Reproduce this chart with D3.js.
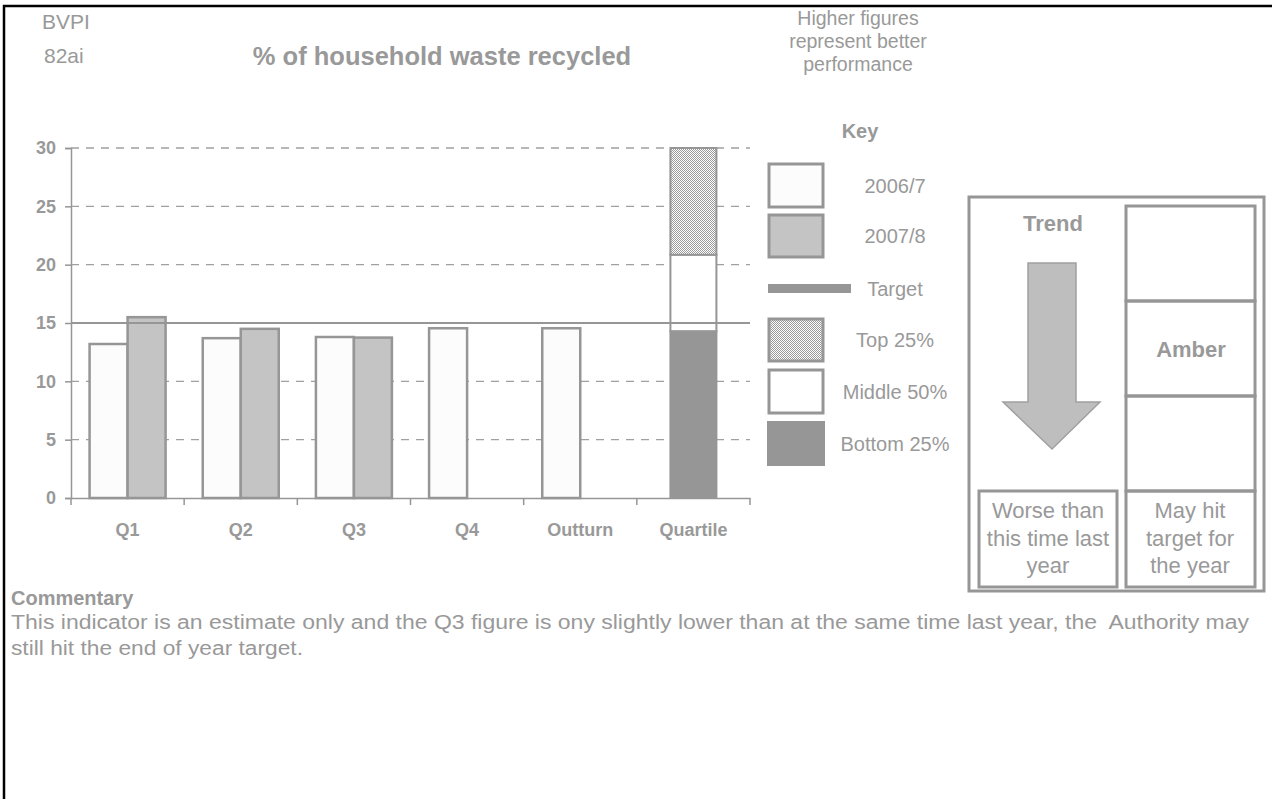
<!DOCTYPE html>
<html><head><meta charset="utf-8">
<script src="https://cdn.jsdelivr.net/npm/d3@7"></script>
<style>
html,body{margin:0;padding:0;background:#fff;}
svg{display:block;font-family:"Liberation Sans",Arial,sans-serif;}
</style></head>
<body><svg id="c" width="1272" height="799"></svg>
<script>
const categories = ["Q1","Q2","Q3","Q4","Outturn","Quartile"];
const values2006 = [13.2, 13.7, 13.8, 14.55, 14.55, null];
const values2007 = [15.5, 14.5, 13.75, null, null, null];
const target = 15;
const quartileBands = [
  {name:"Bottom 25%", from:0, to:14.3},
  {name:"Middle 50%", from:14.3, to:20.85},
  {name:"Top 25%", from:20.85, to:30}
];
const yTicks = [0,5,10,15,20,25,30];
const legendLabels = ["2006/7","2007/8","Target","Top 25%","Middle 50%","Bottom 25%"];
const noteLines = ["Higher figures","represent better","performance"];
const commentaryLines = [
  "This indicator is an estimate only and the Q3 figure is ony slightly lower than at the same time last year, the  Authority may",
  "still hit the end of year target."
];

const grey = "#969696", txt = "#999999";
const svg = d3.select("#c");
const defs = svg.append("defs");
const pat = defs.append("pattern").attr("id","chk").attr("width",2).attr("height",2).attr("patternUnits","userSpaceOnUse");
pat.append("rect").attr("width",2).attr("height",2).attr("fill","#fff");
pat.append("rect").attr("width",1).attr("height",1).attr("fill","#999");
pat.append("rect").attr("x",1).attr("y",1).attr("width",1).attr("height",1).attr("fill","#999");

// page border
svg.append("path").attr("d","M4,1000 V6 H1300").attr("fill","none").attr("stroke","#000").attr("stroke-width",2.5);

// header texts
svg.append("text").attr("x",42).attr("y",29).attr("font-size",21).attr("fill",txt).text("BVPI");
svg.append("text").attr("x",44).attr("y",63).attr("font-size",21).attr("fill",txt).text("82ai");
svg.append("text").attr("x",442).attr("y",65).attr("text-anchor","middle").attr("font-size",25.5).attr("font-weight","bold").attr("fill",txt).text("% of household waste recycled");
noteLines.forEach((t,i)=>{
  svg.append("text").attr("x",858).attr("y",25+i*23).attr("text-anchor","middle").attr("font-size",19.5).attr("fill",txt).text(t);
});
svg.append("text").attr("x",860).attr("y",138).attr("text-anchor","middle").attr("font-size",20).attr("font-weight","bold").attr("fill",txt).text("Key");

// chart
const x = d3.scaleBand().domain(categories).range([71,750]);
const y = d3.scaleLinear().domain([0,30]).range([498,148]);
const g = svg.append("g");

// gridlines
g.selectAll("line.grid").data(yTicks.filter(d=>d!==0 && d!==target)).enter().append("line")
  .attr("x1",71).attr("x2",750).attr("y1",d=>y(d)).attr("y2",d=>y(d))
  .attr("stroke","#a0a0a0").attr("stroke-width",1.3).attr("stroke-dasharray","8,7");

// y axis
const yAxis = g.append("g").attr("transform","translate(71,0)")
  .call(d3.axisLeft(y).tickValues(yTicks).tickSize(6).tickPadding(9));
yAxis.select(".domain").attr("stroke",grey).attr("stroke-width",1.5);
yAxis.selectAll(".tick line").attr("stroke",grey).attr("stroke-width",1.5);
yAxis.selectAll(".tick text").attr("fill",txt).attr("font-size",18).attr("font-weight","bold").attr("font-family","Liberation Sans, Arial, sans-serif");

// x axis
const xAxis = g.append("g").attr("transform","translate(0,498)")
  .call(d3.axisBottom(x).tickSize(0).tickPadding(25));
xAxis.select(".domain").attr("stroke",grey).attr("stroke-width",1.5);
xAxis.selectAll(".tick text").attr("fill",txt).attr("font-size",18).attr("font-weight","bold").attr("font-family","Liberation Sans, Arial, sans-serif");
g.selectAll("line.xt").data(categories.concat(["end"])).enter().append("line")
  .attr("x1",(d,i)=> i<categories.length ? x(d) : x.range()[1])
  .attr("x2",(d,i)=> i<categories.length ? x(d) : x.range()[1])
  .attr("y1",498).attr("y2",505).attr("stroke",grey).attr("stroke-width",1.5);

const bw = 38;
g.selectAll("rect.b6").data(categories.map((c,i)=>({c,v:values2006[i]})).filter(d=>d.v!=null)).enter().append("rect")
  .attr("x",d=>x(d.c)+x.bandwidth()/2-bw).attr("width",bw)
  .attr("y",d=>y(d.v)).attr("height",d=>y(0)-y(d.v))
  .attr("fill","#fcfcfc").attr("stroke",grey).attr("stroke-width",2.5);
g.selectAll("rect.b7").data(categories.map((c,i)=>({c,v:values2007[i]})).filter(d=>d.v!=null)).enter().append("rect")
  .attr("x",d=>x(d.c)+x.bandwidth()/2).attr("width",bw)
  .attr("y",d=>y(d.v)).attr("height",d=>y(0)-y(d.v))
  .attr("fill","#c4c4c4").attr("stroke",grey).attr("stroke-width",2.5);

// quartile stack
const qw = 46, qc = x("Quartile")+x.bandwidth()/2;
const qFill = {"Bottom 25%":grey,"Middle 50%":"#fff","Top 25%":"url(#chk)"};
g.selectAll("rect.q").data(quartileBands).enter().append("rect")
  .attr("x",qc-qw/2).attr("width",qw)
  .attr("y",d=>y(d.to)).attr("height",d=>y(d.from)-y(d.to))
  .attr("fill",d=>qFill[d.name]).attr("stroke",grey).attr("stroke-width",2);

// target line
g.append("line").attr("x1",71).attr("x2",750).attr("y1",y(target)).attr("y2",y(target))
  .attr("stroke",grey).attr("stroke-width",2.2);

// legend
const lg = svg.append("g");
const boxes = [
  {y0:163, y1:208, fill:"#fcfcfc"},
  {y0:214, y1:258, fill:"#c4c4c4"},
  {y0:284, y1:293, fill:grey, line:true},
  {y0:318, y1:362, fill:"url(#chk)"},
  {y0:369, y1:414, fill:"#fff"},
  {y0:421, y1:466, fill:grey, solid:true}
];
boxes.forEach((b,i)=>{
  if (b.line) {
    lg.append("rect").attr("x",768).attr("y",b.y0).attr("width",83).attr("height",b.y1-b.y0).attr("fill",grey);
  } else if (b.solid) {
    lg.append("rect").attr("x",767).attr("y",b.y0).attr("width",58).attr("height",b.y1-b.y0).attr("fill",grey);
  } else {
    lg.append("rect").attr("x",769).attr("y",b.y0+1).attr("width",54).attr("height",b.y1-b.y0-2)
      .attr("fill",b.fill).attr("stroke",grey).attr("stroke-width",3);
  }
  lg.append("text").attr("x",895).attr("y",(b.y0+b.y1)/2).attr("dy","0.35em").attr("text-anchor","middle")
    .attr("font-size",20).attr("fill",txt).text(legendLabels[i]);
});

// trend / status panel
const p = svg.append("g");
p.append("rect").attr("x",969).attr("y",197).attr("width",295).attr("height",394).attr("fill","#fff").attr("stroke",grey).attr("stroke-width",3);
[[1126,206,129,95],[1126,301,129,95],[1126,396,129,95],[1126,491,129,96],[979,491,138,96]].forEach(r=>{
  p.append("rect").attr("x",r[0]).attr("y",r[1]).attr("width",r[2]).attr("height",r[3]).attr("fill","none").attr("stroke",grey).attr("stroke-width",3);
});
p.append("text").attr("x",1053).attr("y",231).attr("text-anchor","middle").attr("font-size",22).attr("font-weight","bold").attr("fill",txt).text("Trend");
p.append("path").attr("d","M1028,263 H1076 V402 H1100 L1052,449 L1003,402 H1028 Z").attr("fill","#bebebe").attr("stroke","#a0a0a0").attr("stroke-width",1.5);
p.append("text").attr("x",1191).attr("y",357).attr("text-anchor","middle").attr("font-size",22).attr("font-weight","bold").attr("fill",txt).text("Amber");
["Worse than","this time last","year"].forEach((t,i)=>{
  p.append("text").attr("x",1048).attr("y",518+i*27.5).attr("text-anchor","middle").attr("font-size",22).attr("fill",txt).text(t);
});
["May hit","target for","the year"].forEach((t,i)=>{
  p.append("text").attr("x",1190).attr("y",518+i*27.5).attr("text-anchor","middle").attr("font-size",22).attr("fill",txt).text(t);
});

// commentary
svg.append("text").attr("x",11).attr("y",605).attr("font-size",20).attr("font-weight","bold").attr("fill",txt).text("Commentary");
const cLen = [1238, 292];
commentaryLines.forEach((t,i)=>{
  svg.append("text").attr("x",11).attr("y",629+i*26).attr("font-size",20).attr("fill",txt)
    .style("white-space","pre")
    .attr("textLength",cLen[i]).attr("lengthAdjust","spacingAndGlyphs").text(t);
});
</script></body></html>
